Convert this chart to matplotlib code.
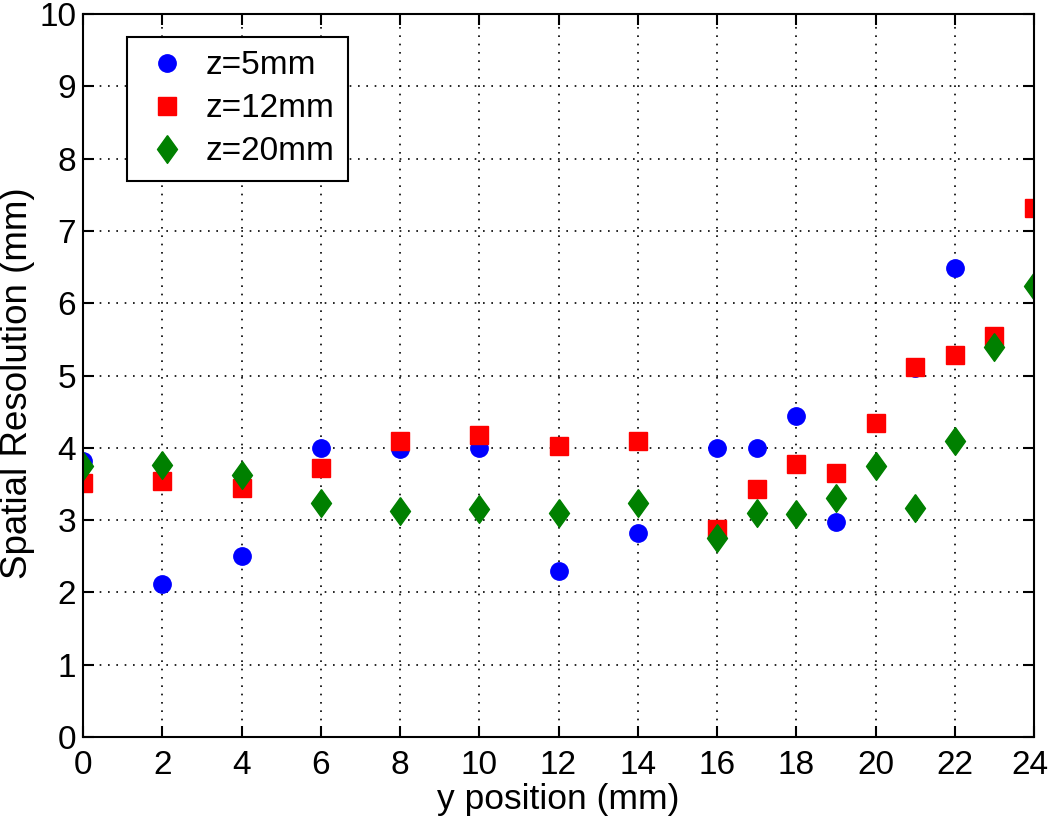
import numpy as np
import matplotlib.pyplot as plt
import matplotlib.transforms as mtransforms

plt.rcParams.update({
    "font.family": ["Liberation Sans", "DejaVu Sans"],
    "font.size": 24,
})

# z = 5 mm
y5 = [0, 2, 4, 6, 8, 10, 12, 14, 16, 17, 18, 19, 21, 22]
r5 = [3.82, 2.12, 2.50, 4.00, 3.98, 4.00, 2.30, 2.82, 4.00, 4.00, 4.44, 2.97, 5.10, 6.49]

# z = 12 mm
y12 = [0, 2, 4, 6, 8, 10, 12, 14, 16, 17, 18, 19, 20, 21, 22, 23, 24]
r12 = [3.51, 3.54, 3.45, 3.72, 4.10, 4.18, 4.03, 4.09, 2.87, 3.43, 3.77, 3.65,
       4.34, 5.12, 5.29, 5.54, 7.32]

# z = 20 mm
y20 = [0, 2, 4, 6, 8, 10, 12, 14, 16, 17, 18, 19, 20, 21, 22, 23, 24]
r20 = [3.75, 3.76, 3.63, 3.24, 3.13, 3.16, 3.10, 3.23, 2.75, 3.10, 3.08, 3.31,
       3.75, 3.17, 4.09, 5.39, 6.24]

# MATLAB-style diamond (taller than wide)
diamond = [(0, 1), (0.72, 0), (0, -1), (-0.72, 0), (0, 1)]

fig = plt.figure(figsize=(10.5, 8.19), dpi=100)
ax = fig.add_axes([83 / 1050, 1 - 737 / 819, (1034 - 83) / 1050, (737 - 14) / 819])

ax.plot(y5, r5, "o", color=(0, 0, 1), markersize=12.5, linestyle="none", label="z=5mm")
ax.plot(y12, r12, "s", color=(1, 0, 0), markersize=13, linestyle="none", label="z=12mm")
ax.plot(y20, r20, marker=diamond, color=(0, 0.5, 0), markersize=20, linestyle="none",
        label="z=20mm")

ax.set_xlim(0, 24)
ax.set_ylim(0, 10)
ax.set_xticks(np.arange(0, 25, 2))
ax.set_yticks(np.arange(0, 11, 1))
ax.grid(True, linestyle=(0, (1, 4)), color="black", linewidth=1.2)
ax.tick_params(direction="in", top=True, right=True, length=8, width=1.5)
ax.tick_params(axis="x", pad=9)
ax.tick_params(axis="y", pad=5)
for s in ax.spines.values():
    s.set_linewidth(1.5)

# nudge the last x tick label so it stays inside the figure
last = ax.get_xticklabels()[-1]
last.set_transform(last.get_transform() +
                   mtransforms.ScaledTranslation(-3 / 72, 0, fig.dpi_scale_trans))

ax.set_xlabel("y position (mm)", fontsize=25.5, va="center")
ax.xaxis.set_label_coords(0.5, -(800 - 737) / 723)
ax.set_ylabel("Spatial Resolution (mm)", fontsize=26.5, va="center")
ax.yaxis.set_label_coords(-(83 - 18) / 951, (737 - 383) / 723)

leg = ax.legend(loc="upper left", bbox_to_anchor=(127 / 1050, 1 - 37 / 819),
                bbox_transform=fig.transFigure, borderaxespad=0,
                fancybox=False, edgecolor="black", framealpha=1, fontsize=24,
                handlelength=1.6, handletextpad=0.36, borderpad=0.4,
                labelspacing=0.36)
leg.get_frame().set_linewidth(1.5)

fig.savefig("out.png", dpi=100)
